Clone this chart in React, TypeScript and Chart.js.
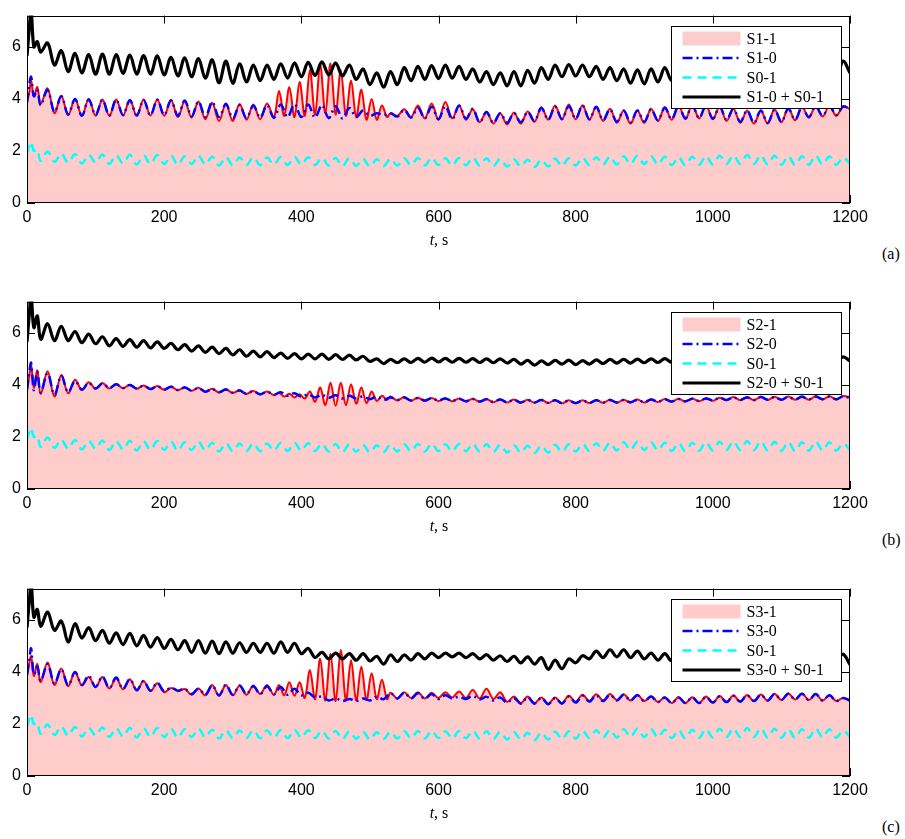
import React, { useEffect, useRef } from "react";
import { Chart, registerables } from "chart.js";
Chart.register(...registerables);

const X_TICKS = [0, 200, 400, 600, 800, 1000, 1200];
const Y_TICKS = [0, 2, 4, 6];
const X_MAX = 1200;
const Y_MAX = 7.2;

function range(a: number, b: number, s: number): number[] {
  const r: number[] = [];
  for (let v = a; v <= b + 1e-9; v += s) r.push(+v.toFixed(2));
  return r;
}
// time grids (s)
const T_HEAD = [0, 3, 6, 10, 15];
const T = [...T_HEAD, ...range(20, 1200, 10)];
const RED_T = [...T_HEAD, ...range(20, 350, 10), ...range(360, 525, 7.5), ...range(530, 1200, 10)];

// S0-1 (same in all panels)
const CYAN = [1.9, 2.15, 2.35, 2.0, 2.05,
  1.62, 1.98, 1.58, 1.9, 1.55, 1.88, 1.52, 1.85, 1.55, 1.86,
  1.5, 1.84, 1.52, 1.85, 1.48, 1.83, 1.5, 1.84, 1.5, 1.82,
  1.47, 1.8, 1.5, 1.82, 1.48, 1.78, 1.44, 1.76, 1.45, 1.75,
  1.46, 1.76, 1.45, 1.75, 1.47, 1.77, 1.46, 1.78, 1.47, 1.76,
  1.46, 1.74, 1.44, 1.73, 1.42, 1.72, 1.43, 1.7, 1.4, 1.68,
  1.42, 1.7, 1.44, 1.72, 1.45, 1.73, 1.44, 1.74, 1.46, 1.72,
  1.44, 1.73, 1.45, 1.74, 1.44, 1.72, 1.42, 1.7, 1.4, 1.68,
  1.4, 1.66, 1.38, 1.67, 1.4, 1.7, 1.42, 1.72, 1.44, 1.74,
  1.46, 1.76, 1.47, 1.78, 1.48, 1.8, 1.5, 1.82, 1.5, 1.8,
  1.48, 1.78, 1.46, 1.76, 1.45, 1.78, 1.47, 1.8, 1.48, 1.82,
  1.5, 1.83, 1.5, 1.84, 1.5, 1.83, 1.48, 1.82, 1.47, 1.8,
  1.46, 1.8, 1.47, 1.82, 1.48, 1.8, 1.47, 1.75, 1.5];

// ---- panel (a) ----
const BLUE_A = [3.85, 4.5, 4.85, 4.1, 4.35,
  3.75, 4.35, 3.5, 4.1, 3.4, 4.0, 3.35, 3.98, 3.38, 3.96,
  3.36, 3.97, 3.38, 3.95, 3.36, 3.96, 3.37, 3.97, 3.38, 3.95,
  3.35, 3.94, 3.33, 3.9, 3.3, 3.88, 3.3, 3.8, 3.25, 3.75,
  3.27, 3.74, 3.28, 3.76, 3.27, 3.78, 3.3, 3.8, 3.3, 3.78,
  3.28, 3.76, 3.26, 3.72, 3.25, 3.65, 3.3, 3.55, 3.35, 3.45,
  3.38, 3.45, 3.32, 3.58, 3.28, 3.66, 3.25, 3.7, 3.22, 3.72,
  3.22, 3.75, 3.24, 3.62, 3.1, 3.5, 3.08, 3.45, 3.08, 3.45,
  3.1, 3.5, 3.15, 3.65, 3.2, 3.7, 3.22, 3.72, 3.24, 3.74,
  3.22, 3.7, 3.18, 3.6, 3.12, 3.55, 3.1, 3.55, 3.12, 3.6,
  3.18, 3.66, 3.22, 3.72, 3.25, 3.75, 3.26, 3.74, 3.24, 3.7,
  3.2, 3.62, 3.12, 3.55, 3.08, 3.55, 3.08, 3.58, 3.12, 3.62,
  3.2, 3.68, 3.3, 3.72, 3.35, 3.72, 3.38, 3.7, 3.62];
const RED_A = [3.9, 4.2, 4.7, 4.1, 4.45,
  3.8, 4.4, 3.45, 4.12, 3.38, 4.0, 3.36, 4.0, 3.35, 3.98,
  3.35, 3.98, 3.36, 3.96, 3.35, 3.98, 3.36, 3.98, 3.35, 3.96,
  3.3, 3.92, 3.28, 3.9, 3.22, 3.85, 3.15, 3.82, 3.15, 3.8,
  3.2, 3.78, 3.22, 3.82,
  3.3, 4.3, 3.35, 4.45, 3.3, 4.65, 3.35, 5.1, 3.4, 5.3, 3.45, 5.36,
  3.4, 5.1, 3.35, 4.7, 3.3, 4.35, 3.2, 4.0, 3.2, 3.75, 3.3,
  3.45, 3.35, 3.6, 3.3, 3.75, 3.25, 3.82, 3.2, 3.88, 3.25,
  3.75, 3.2, 3.6, 3.1, 3.5, 3.05, 3.45, 3.02, 3.48, 3.05,
  3.52, 3.12, 3.68, 3.2, 3.75, 3.22, 3.78, 3.22, 3.76, 3.2,
  3.7, 3.15, 3.62, 3.08, 3.55, 3.05, 3.55, 3.08, 3.62, 3.15,
  3.68, 3.2, 3.75, 3.22, 3.78, 3.25, 3.76, 3.22, 3.72, 3.15,
  3.62, 3.08, 3.55, 3.05, 3.55, 3.05, 3.6, 3.1, 3.65, 3.18,
  3.7, 3.28, 3.74, 3.32, 3.75, 3.35, 3.72, 3.6];
const BLACK_A = [5.65, 6.6, 7.4, 6.0, 6.2,
  5.8, 6.15, 5.3, 5.85, 5.05, 5.75, 5.0, 5.7, 4.95, 5.72,
  4.95, 5.7, 4.98, 5.68, 4.95, 5.66, 4.95, 5.65, 4.92, 5.6,
  4.88, 5.58, 4.85, 5.55, 4.8, 5.5, 4.62, 5.45, 4.6, 5.35,
  4.65, 5.3, 4.7, 5.3, 4.75, 5.35, 4.8, 5.38, 4.85, 5.4,
  4.9, 5.42, 4.92, 5.38, 4.88, 5.3, 4.75, 5.15, 4.55, 5.0,
  4.45, 5.05, 4.55, 5.2, 4.7, 5.25, 4.75, 5.28, 4.78, 5.3,
  4.8, 5.25, 4.75, 5.15, 4.65, 5.05, 4.55, 5.0, 4.5, 5.05,
  4.5, 5.1, 4.6, 5.2, 4.75, 5.3, 4.85, 5.32, 4.88, 5.3,
  4.85, 5.25, 4.75, 5.2, 4.7, 5.15, 4.6, 5.12, 4.58, 5.15,
  4.65, 5.2, 4.7, 5.25, 4.75, 5.25, 4.75, 5.2, 4.7, 5.15,
  4.65, 5.1, 4.6, 5.05, 4.6, 5.05, 4.62, 5.1, 4.65, 5.15,
  4.7, 5.2, 4.78, 5.25, 4.8, 5.3, 4.85, 5.45, 5.0];

// ---- panel (b) ----
const BLUE_B = [3.8, 4.4, 4.85, 3.8, 4.5,
  3.7, 4.45, 3.62, 4.35, 3.72, 4.15, 3.82, 4.08, 3.86, 4.05,
  3.88, 4.02, 3.88, 4.0, 3.86, 3.97, 3.84, 3.95, 3.82, 3.93,
  3.8, 3.9, 3.78, 3.88, 3.74, 3.84, 3.72, 3.82, 3.7, 3.78,
  3.66, 3.76, 3.64, 3.74, 3.62, 3.72, 3.58, 3.68, 3.54, 3.64,
  3.52, 3.62, 3.5, 3.6, 3.48, 3.58, 3.48, 3.56, 3.45, 3.55,
  3.42, 3.52, 3.42, 3.52, 3.4, 3.5, 3.4, 3.49, 3.4, 3.48,
  3.38, 3.47, 3.37, 3.46, 3.36, 3.45, 3.34, 3.44, 3.33, 3.43,
  3.32, 3.42, 3.32, 3.42, 3.31, 3.41, 3.3, 3.4, 3.3, 3.4,
  3.31, 3.41, 3.32, 3.42, 3.32, 3.42, 3.33, 3.43, 3.33, 3.44,
  3.35, 3.45, 3.36, 3.46, 3.37, 3.47, 3.38, 3.48, 3.4, 3.5,
  3.42, 3.52, 3.42, 3.52, 3.42, 3.53, 3.43, 3.53, 3.43, 3.54,
  3.44, 3.54, 3.44, 3.55, 3.45, 3.55, 3.45, 3.56, 3.5];
const RED_B = [3.85, 4.3, 4.75, 3.9, 4.55,
  3.65, 4.52, 3.55, 4.38, 3.68, 4.2, 3.8, 4.1, 3.85, 4.07,
  3.86, 4.03, 3.87, 4.01, 3.85, 3.98, 3.83, 3.96, 3.81, 3.94,
  3.79, 3.91, 3.77, 3.89, 3.73, 3.85, 3.71, 3.83, 3.69, 3.79,
  3.65, 3.77, 3.63, 3.75,
  3.6, 3.7, 3.55, 3.66, 3.52, 3.64, 3.48, 3.75, 3.35, 3.9, 3.22, 4.08,
  3.2, 4.08, 3.22, 4.02, 3.28, 3.9, 3.3, 3.75, 3.38, 3.58, 3.42,
  3.55, 3.4, 3.53, 3.39, 3.51, 3.38, 3.5, 3.38, 3.49, 3.37,
  3.48, 3.36, 3.47, 3.35, 3.46, 3.33, 3.45, 3.32, 3.44, 3.31,
  3.43, 3.31, 3.43, 3.3, 3.42, 3.29, 3.41, 3.29, 3.41, 3.3,
  3.42, 3.31, 3.43, 3.31, 3.43, 3.32, 3.44, 3.32, 3.45, 3.34,
  3.46, 3.35, 3.47, 3.36, 3.48, 3.37, 3.49, 3.39, 3.51, 3.41,
  3.53, 3.41, 3.53, 3.41, 3.54, 3.42, 3.54, 3.42, 3.55, 3.43,
  3.55, 3.43, 3.56, 3.44, 3.56, 3.44, 3.57, 3.52];
const BLACK_B = [5.65, 6.6, 7.4, 6.2, 6.65,
  5.75, 6.35, 5.7, 6.25, 5.7, 6.05, 5.62, 5.95, 5.58, 5.85,
  5.5, 5.78, 5.48, 5.74, 5.45, 5.7, 5.42, 5.65, 5.4, 5.6,
  5.35, 5.55, 5.3, 5.5, 5.25, 5.45, 5.2, 5.4, 5.15, 5.35,
  5.1, 5.3, 5.08, 5.28, 5.05, 5.22, 5.02, 5.2, 5.0, 5.18,
  5.0, 5.18, 4.98, 5.16, 4.98, 5.14, 4.96, 5.1, 4.9, 5.0,
  4.82, 4.98, 4.85, 5.0, 4.86, 5.02, 4.87, 5.03, 4.88, 5.02,
  4.87, 5.02, 4.87, 5.01, 4.86, 5.0, 4.85, 5.0, 4.84, 4.98,
  4.8, 4.94, 4.76, 4.92, 4.78, 4.94, 4.8, 4.95, 4.78, 4.93,
  4.8, 4.96, 4.82, 4.98, 4.84, 4.98, 4.84, 4.99, 4.85, 5.0,
  4.86, 5.01, 4.87, 5.02, 4.88, 5.03, 4.89, 5.04, 4.9, 5.05,
  4.9, 5.05, 4.9, 5.05, 4.9, 5.06, 4.9, 5.06, 4.9, 5.06,
  4.9, 5.06, 4.9, 5.07, 4.9, 5.07, 4.9, 5.08, 4.92];

// ---- panel (c) ----
const BLUE_C = [3.9, 4.4, 4.9, 3.9, 4.2,
  3.65, 4.3, 3.55, 4.1, 3.48, 4.0, 3.5, 3.85, 3.42, 3.82,
  3.38, 3.78, 3.35, 3.72, 3.3, 3.65, 3.28, 3.58, 3.25, 3.4,
  3.28, 3.35, 3.15, 3.35, 3.12, 3.48, 3.1, 3.5, 3.12, 3.48,
  3.15, 3.45, 3.15, 3.45, 3.14, 3.42, 3.12, 3.35, 3.1, 3.2,
  3.02, 3.05, 2.9, 2.98, 2.88, 2.96, 2.88, 2.98, 2.9, 3.05,
  2.95, 3.18, 2.98, 3.2, 2.98, 3.18, 2.96, 3.15, 2.96, 3.1,
  2.98, 3.05, 2.96, 3.08, 2.94, 3.04, 2.9, 3.02, 2.82, 3.0,
  2.78, 3.02, 2.78, 3.0, 2.76, 3.0, 2.78, 3.05, 2.82, 3.08,
  2.86, 3.1, 2.88, 3.12, 2.9, 3.12, 2.9, 3.1, 2.88, 3.05,
  2.84, 3.02, 2.8, 3.02, 2.8, 3.02, 2.8, 3.04, 2.82, 3.06,
  2.84, 3.08, 2.86, 3.1, 2.88, 3.12, 2.9, 3.15, 2.92, 3.16,
  2.94, 3.16, 2.92, 3.15, 2.9, 3.1, 2.88, 3.0, 2.9];
const RED_C = [3.85, 4.3, 4.6, 3.85, 4.3,
  3.6, 4.36, 3.5, 4.13, 3.45, 4.0, 3.48, 3.8, 3.42, 3.8,
  3.36, 3.76, 3.33, 3.72, 3.28, 3.65, 3.26, 3.56, 3.22, 3.38,
  3.26, 3.34, 3.12, 3.36, 3.1, 3.5, 3.08, 3.5, 3.1, 3.47,
  3.12, 3.48, 3.15, 3.5,
  3.12, 3.5, 3.1, 3.6, 3.08, 3.6, 3.0, 4.06, 2.95, 4.5, 2.9, 4.7,
  2.88, 4.84, 2.9, 4.45, 2.9, 4.2, 2.92, 3.95, 2.95, 3.7, 2.95,
  3.2, 2.98, 3.22, 3.0, 3.22, 2.98, 3.2, 3.0, 3.22, 3.02,
  3.25, 3.0, 3.3, 2.98, 3.35, 2.96, 3.22, 2.85, 3.05, 2.8,
  3.05, 2.8, 3.02, 2.78, 3.02, 2.8, 3.08, 2.85, 3.12, 2.88,
  3.14, 2.9, 3.15, 2.92, 3.14, 2.9, 3.12, 2.88, 3.06, 2.84,
  3.03, 2.8, 3.03, 2.8, 3.03, 2.8, 3.05, 2.82, 3.07, 2.84,
  3.09, 2.86, 3.11, 2.88, 3.13, 2.9, 3.16, 2.92, 3.17, 2.94,
  3.17, 2.92, 3.15, 2.9, 3.1, 2.88, 3.0, 2.88];
const BLACK_C = [5.7, 6.6, 7.4, 6.1, 6.4,
  5.75, 6.3, 5.6, 5.95, 5.15, 5.85, 5.3, 5.7, 5.2, 5.6,
  5.1, 5.5, 5.05, 5.48, 5.0, 5.4, 4.95, 5.32, 4.9, 5.25,
  4.85, 5.2, 4.75, 5.2, 4.72, 5.18, 4.7, 5.15, 4.72, 5.12,
  4.75, 5.1, 4.75, 5.1, 4.72, 5.15, 4.75, 5.1, 4.7, 4.9,
  4.55, 4.75, 4.5, 4.72, 4.5, 4.7, 4.45, 4.7, 4.42, 4.6,
  4.3, 4.65, 4.4, 4.65, 4.45, 4.7, 4.5, 4.72, 4.55, 4.72,
  4.58, 4.72, 4.55, 4.7, 4.5, 4.66, 4.45, 4.62, 4.4, 4.6,
  4.35, 4.58, 4.3, 4.55, 4.1, 4.45, 4.12, 4.5, 4.35, 4.62,
  4.5, 4.8, 4.55, 4.85, 4.58, 4.85, 4.55, 4.8, 4.5, 4.72,
  4.45, 4.7, 4.42, 4.68, 4.4, 4.65, 4.38, 4.62, 4.36, 4.6,
  4.35, 4.6, 4.35, 4.6, 4.35, 4.6, 4.35, 4.62, 4.38, 4.65,
  4.4, 4.68, 4.42, 4.72, 4.4, 4.7, 4.5, 4.68, 4.28];

const PANELS = [
  { tag: "(a)", names: ["S1-1", "S1-0", "S0-1", "S1-0 + S0-1"], red: RED_A, blue: BLUE_A, black: BLACK_A },
  { tag: "(b)", names: ["S2-1", "S2-0", "S0-1", "S2-0 + S0-1"], red: RED_B, blue: BLUE_B, black: BLACK_B },
  { tag: "(c)", names: ["S3-1", "S3-0", "S0-1", "S3-0 + S0-1"], red: RED_C, blue: BLUE_C, black: BLACK_C },
];

const CANVAS_W = 905;
const CANVAS_H = 240;
const CANVAS_TOPS = [0, 286, 573];
const PLOT_TOP = 5;
const PLOT_BOTTOM = 203;

const PINK = "rgb(255,204,204)";
const BLUE_DASH = [10, 4, 2, 4];
const CYAN_DASH = [9, 6];

function pts(ts: number[], vs: number[]) {
  const n = Math.min(ts.length, vs.length);
  const out: { x: number; y: number }[] = [];
  for (let i = 0; i < n; i++) out.push({ x: ts[i], y: vs[i] });
  return out;
}

function makePlugin(names: string[]) {
  return {
    id: "matlabDecor",
    beforeDatasetsDraw(chart: any) {
      const { ctx, chartArea: a, scales } = chart;
      ctx.save();
      ctx.strokeStyle = "#000";
      ctx.lineWidth = 1;
      ctx.beginPath();
      X_TICKS.forEach((v) => {
        const px = Math.round(scales.x.getPixelForValue(v)) + 0.5;
        ctx.moveTo(px, a.top); ctx.lineTo(px, a.top + 8);
        ctx.moveTo(px, a.bottom); ctx.lineTo(px, a.bottom - 8);
      });
      Y_TICKS.forEach((v) => {
        const py = Math.round(scales.y.getPixelForValue(v)) + 0.5;
        ctx.moveTo(a.left, py); ctx.lineTo(a.left + 8, py);
        ctx.moveTo(a.right, py); ctx.lineTo(a.right - 8, py);
      });
      ctx.stroke();
      ctx.restore();
    },
    afterDatasetsDraw(chart: any) {
      const { ctx, chartArea: a } = chart;
      ctx.save();
      ctx.strokeStyle = "#000";
      ctx.lineWidth = 1;
      ctx.setLineDash([]);
      ctx.strokeRect(Math.round(a.left) + 0.5, Math.round(a.top) + 0.5, Math.round(a.right - a.left) - 1, Math.round(a.bottom - a.top) - 1);
      // legend
      const bw = 170, bh = 82;
      const bx = Math.round(a.right) - 9 - bw + 0.5;
      const by = Math.round(a.top) + 10 + 0.5;
      ctx.fillStyle = "#fff";
      ctx.fillRect(bx, by, bw, bh);
      ctx.strokeRect(bx, by, bw, bh);
      const rows = [12, 31.5, 51, 70.5];
      const sx0 = bx + 11, sx1 = bx + 69;
      ctx.fillStyle = PINK;
      ctx.fillRect(sx0, by + rows[0] - 7, sx1 - sx0, 14);
      ctx.lineWidth = 2.5;
      ctx.strokeStyle = "#0000ff";
      ctx.setLineDash(BLUE_DASH);
      ctx.beginPath(); ctx.moveTo(sx0, by + rows[1]); ctx.lineTo(sx1, by + rows[1]); ctx.stroke();
      ctx.strokeStyle = "#00ffff";
      ctx.setLineDash(CYAN_DASH);
      ctx.beginPath(); ctx.moveTo(sx0, by + rows[2]); ctx.lineTo(sx1, by + rows[2]); ctx.stroke();
      ctx.setLineDash([]);
      ctx.strokeStyle = "#000";
      ctx.lineWidth = 3;
      ctx.beginPath(); ctx.moveTo(sx0, by + rows[3]); ctx.lineTo(sx1, by + rows[3]); ctx.stroke();
      ctx.fillStyle = "#000";
      ctx.font = "16px 'Liberation Serif', 'Times New Roman', serif";
      ctx.textBaseline = "middle";
      ctx.textAlign = "left";
      names.forEach((nm, i) => ctx.fillText(nm, bx + 75, by + rows[i] + 1));
      ctx.restore();
    },
  };
}

function Panel({ idx }: { idx: number }) {
  const ref = useRef<HTMLCanvasElement | null>(null);
  const p = PANELS[idx];
  useEffect(() => {
    if (!ref.current) return;
    const tickFont = { family: "'Liberation Sans', Arial, Helvetica, sans-serif", size: 16 };
    const chart = new Chart(ref.current, {
      type: "line",
      data: {
        datasets: [
          { label: p.names[3], data: pts(T, p.black), borderColor: "#000", borderWidth: 3.2, pointRadius: 0, tension: 0.35, fill: false },
          { label: p.names[2], data: pts(T, CYAN), borderColor: "#00ffff", borderWidth: 2.5, borderDash: CYAN_DASH, pointRadius: 0, tension: 0.35, fill: false },
          { label: p.names[1], data: pts(T, p.blue), borderColor: "#0000ff", borderWidth: 2.5, borderDash: BLUE_DASH, pointRadius: 0, tension: 0.35, fill: false },
          { label: p.names[0], data: pts(RED_T, p.red), borderColor: "#ff0000", borderWidth: 2, backgroundColor: PINK, pointRadius: 0, tension: 0.35, fill: "origin" },
        ],
      } as any,
      options: {
        animation: false,
        responsive: false,
        events: [],
        layout: { padding: { left: 0, right: CANVAS_W - 850, top: PLOT_TOP, bottom: 0 } },
        plugins: { legend: { display: false }, tooltip: { enabled: false } },
        scales: {
          x: {
            type: "linear", min: 0, max: X_MAX,
            grid: { display: false, drawTicks: false },
            border: { display: false },
            ticks: { font: tickFont, color: "#000", padding: 5, maxRotation: 0, callback: (v: any) => String(v) },
            afterBuildTicks: (s: any) => { s.ticks = X_TICKS.map((v) => ({ value: v })); },
            afterFit: (s: any) => { s.height = CANVAS_H - PLOT_BOTTOM; },
          },
          y: {
            type: "linear", min: 0, max: Y_MAX,
            grid: { display: false, drawTicks: false },
            border: { display: false },
            ticks: { font: tickFont, color: "#000", padding: 6, callback: (v: any) => String(v) },
            afterBuildTicks: (s: any) => { s.ticks = Y_TICKS.map((v) => ({ value: v })); },
            afterFit: (s: any) => { s.width = 27; },
          },
        },
      } as any,
      plugins: [makePlugin(p.names)],
    });
    return () => chart.destroy();
  }, [idx]);
  const top = CANVAS_TOPS[idx];
  const serif = "'Liberation Serif', 'Times New Roman', serif";
  return (
    <>
      <canvas ref={ref} width={CANVAS_W} height={CANVAS_H}
        style={{ position: "absolute", left: 0, top, width: CANVAS_W, height: CANVAS_H, display: "block" }} />
      <div style={{ position: "absolute", left: 439, top: top + PLOT_BOTTOM + 29, transform: "translateX(-50%)", fontFamily: serif, fontSize: 16, lineHeight: "16px", whiteSpace: "nowrap", color: "#000" }}>
        <i>t</i>, s
      </div>
      <div style={{ position: "absolute", left: 882, top: top + PLOT_BOTTOM + 43, fontFamily: serif, fontSize: 16, lineHeight: "16px", color: "#000" }}>
        {p.tag}
      </div>
    </>
  );
}

export default function App() {
  return (
    <div style={{ position: "absolute", left: 0, top: 0, width: 905, height: 839, background: "#fff", overflow: "hidden" }}>
      <Panel idx={0} />
      <Panel idx={1} />
      <Panel idx={2} />
    </div>
  );
}
